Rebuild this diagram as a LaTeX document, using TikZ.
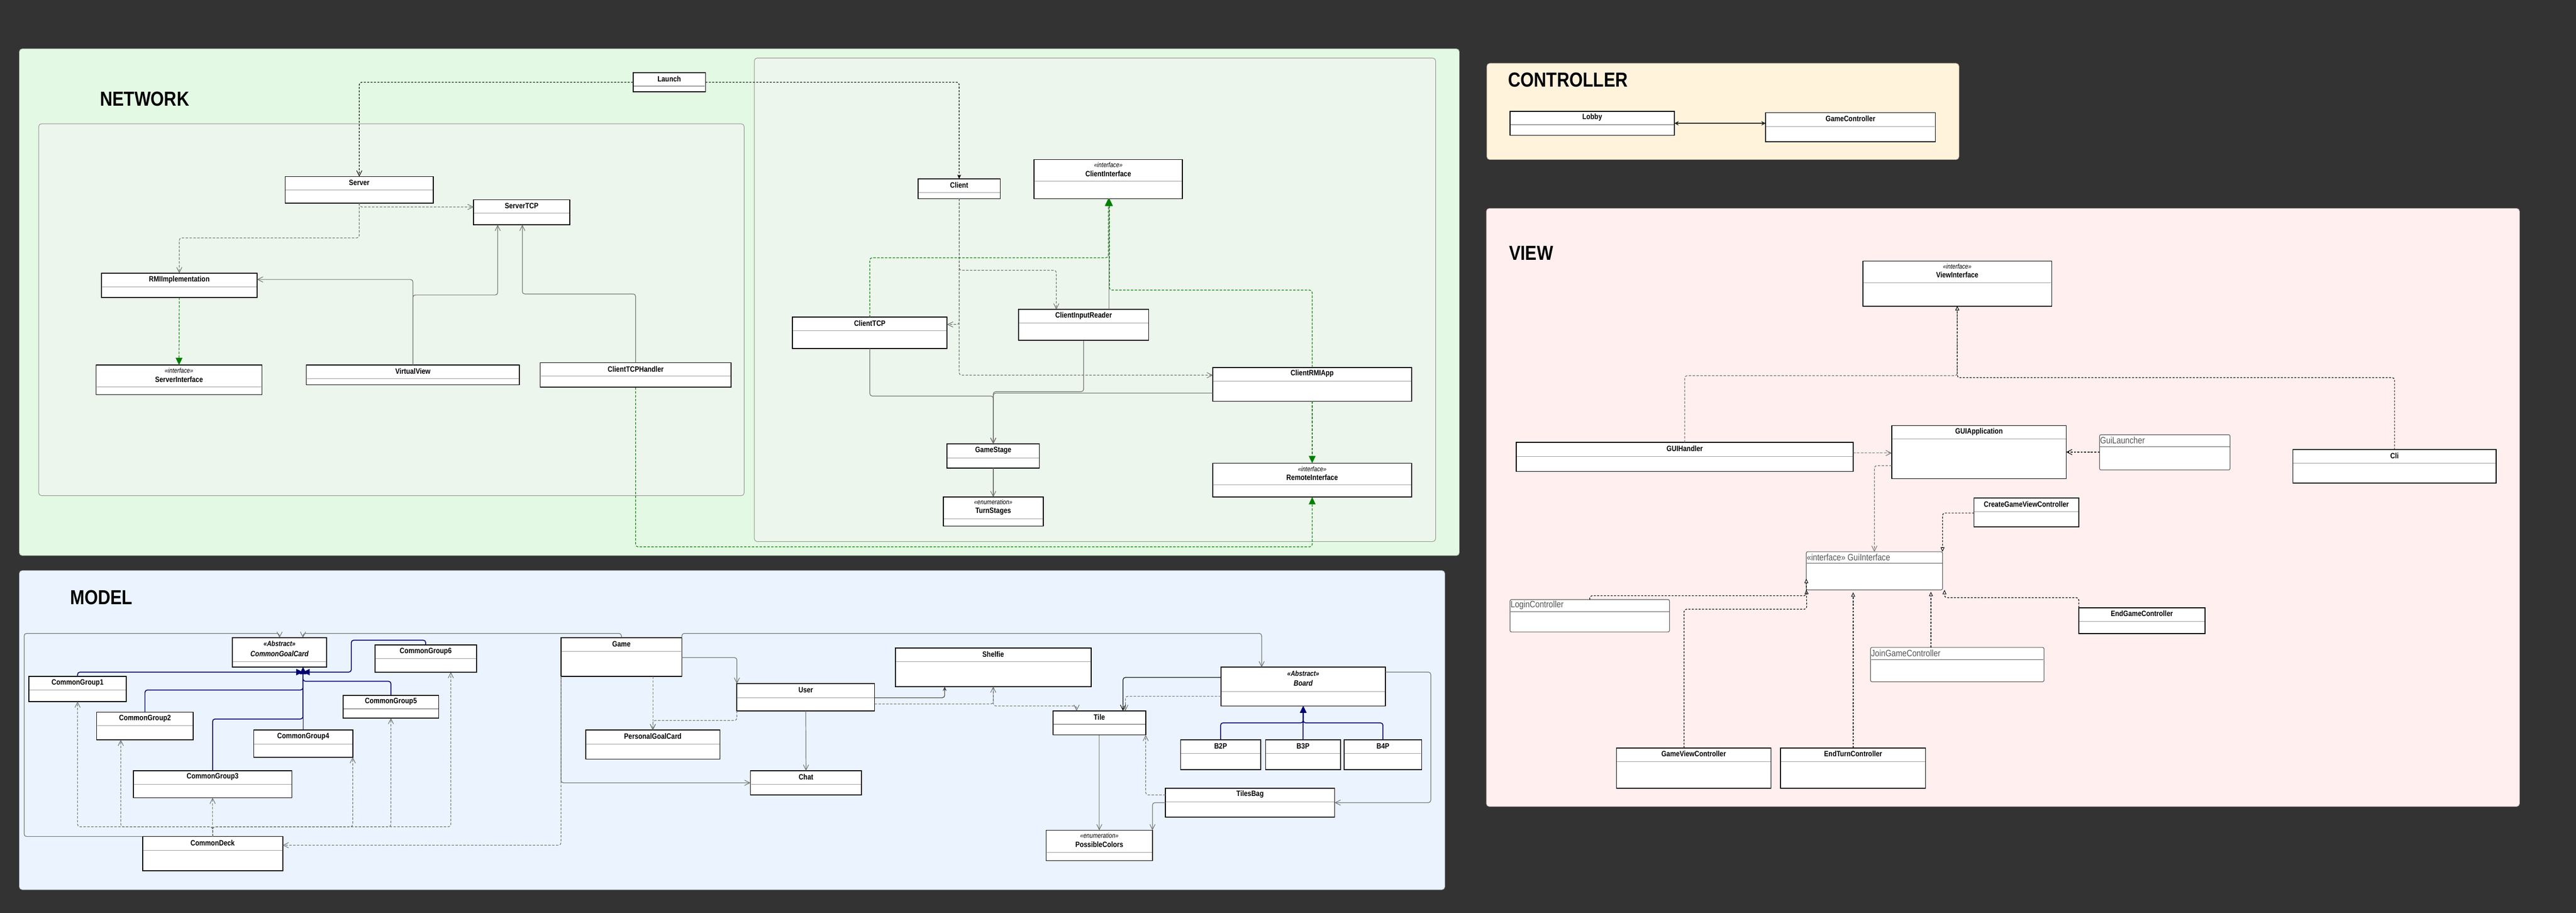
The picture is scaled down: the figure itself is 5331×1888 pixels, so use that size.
\documentclass[tikz,border=0pt]{standalone}
\usepackage{fontspec}
\setmainfont{Liberation Sans}[FakeStretch=0.85]
\usetikzlibrary{arrows.meta}
\definecolor{bgdark}{HTML}{333333}
\definecolor{netfill}{HTML}{E3F9E3}
\definecolor{netinner}{HTML}{EDF6ED}
\definecolor{ctrlfill}{HTML}{FFF3DC}
\definecolor{viewfill}{HTML}{FFEFEF}
\definecolor{modelfill}{HTML}{EBF4FE}
\definecolor{lgray}{HTML}{707070}
\definecolor{umlgreen}{HTML}{008000}
\definecolor{umlnavy}{HTML}{000070}
\definecolor{divgray}{HTML}{999999}
\definecolor{txtgray}{HTML}{555555}
\definecolor{pborder}{HTML}{8A8A8A}

\tikzset{
  panel/.style={rounded corners=6pt, line width=1pt, draw=pborder},
  clsbox/.style={rectangle, draw=black, fill=white, line width=1.8pt, inner sep=0pt, outer sep=0pt},
  clsgbox/.style={rectangle, draw=txtgray, fill=white, line width=1.2pt, rounded corners=3pt, inner sep=0pt, outer sep=0pt},
  divline/.style={draw=divgray, line width=1.2pt},
  clstxt/.style={inner sep=0pt, align=center, font=\fontsize{16}{19}\selectfont\bfseries},
  clsgtxt/.style={inner sep=0pt, anchor=west, text=txtgray, font=\fontsize{19}{22}\selectfont},
  titletxt/.style={inner sep=0pt, anchor=west, font=\fontsize{42}{50}\selectfont\bfseries},
  conn/.style={line width=1.3pt, rounded corners=5pt},
  dgray/.style={conn, draw=lgray, dash pattern=on 5pt off 3pt},
  sgray/.style={conn, draw=lgray},
  dblk/.style={conn, draw=black, dash pattern=on 4pt off 3pt},
  dgreen/.style={conn, draw=umlgreen, dash pattern=on 5pt off 3pt},
  snavy/.style={conn, draw=umlnavy, line width=1.8pt},
  ubarb/.tip={Straight Barb[length=11pt,width=11pt,line width=1.2pt]},
  gtri/.tip={Triangle[length=15pt,width=14pt,fill=umlgreen]},
  ntri/.tip={Triangle[length=14pt,width=13pt,fill=umlnavy]},
  htri/.tip={Triangle[length=9pt,width=8pt,fill=white,line width=1.1pt]},
  stip/.tip={Stealth[length=9pt,width=8pt]}
}

\newcommand\stereo[1]{{\fontsize{14}{17}\selectfont\mdseries\itshape\textless\textless #1\textgreater\textgreater}}
\newcommand\abstr{{\fontsize{15}{18}\selectfont\bfseries\itshape\textless\textless Abstract\textgreater\textgreater}}

% #1 name, #2 x1, #3 y1, #4 x2, #5 y2, #6 divider y, #7 text y, #8 text
\newcommand\cls[8]{%
  \node[clsbox, anchor=north west, minimum width={(#4-#2)*1pt}, minimum height={(#5-#3)*1pt}] (#1) at (#2,#3) {};
  \draw[divline] (#2+1,#6) -- (#4-1,#6);
  \node[clstxt] (#1-t) at ({(#2+#4)/2},#7) {#8};
}
\newcommand\clsg[8]{%
  \node[clsgbox, anchor=north west, minimum width={(#4-#2)*1pt}, minimum height={(#5-#3)*1pt}] (#1) at (#2,#3) {};
  \draw[divline, draw=txtgray] (#2+1,#6) -- (#4-1,#6);
  \node[clsgtxt] (#1-t) at (#2+1,#7) {#8};
}

\begin{document}
\begin{tikzpicture}[x=1pt,y=-1pt]
\fill[bgdark] (0,0) rectangle (5331,1888);
\useasboundingbox (0,0) rectangle (5331,1888);

% ---------------- panels ----------------
\path[panel, fill=netfill, draw=netfill!75!black] (40,101) rectangle (3020,1149);
\path[panel, fill=netinner] (80,256) rectangle (1540,1025);
\path[panel, fill=netinner] (1561,120) rectangle (2971,1120);
\path[panel, fill=ctrlfill, draw=ctrlfill!75!black] (3077,131) rectangle (4054,330);
\path[panel, fill=viewfill, draw=viewfill!75!black] (3076,431) rectangle (5214,1668);
\path[panel, fill=modelfill, draw=modelfill!75!black] (40,1180) rectangle (2990,1840);

\node[titletxt] (netTitle) at (207,205) {NETWORK};
\node[titletxt] (ctrlTitle) at (3121,165) {CONTROLLER};
\node[titletxt] (viewTitle) at (3123,523) {VIEW};
\node[titletxt] (modelTitle) at (145,1236) {MODEL};

% ---------------- NETWORK ----------------
\cls{Launch}{1310}{150}{1460}{190}{178}{163}{Launch}
\cls{Server}{590}{365}{897}{420}{393}{378}{Server}
\cls{ServerTCP}{980}{413}{1179}{465}{441}{426}{ServerTCP}
\cls{RMIImplementation}{210}{565}{532}{615}{593}{578}{RMIImplementation}
\cls{ServerInterface}{199}{755}{542}{816}{800}{776}{\stereo{interface}\\ServerInterface}
\cls{VirtualView}{634}{755}{1075}{796}{783}{768}{VirtualView}
\cls{ClientTCPHandler}{1118}{750}{1513}{801}{778}{763}{ClientTCPHandler}
\cls{Client}{1900}{370}{2070}{411}{398}{383}{Client}
\cls{ClientInterface}{2140}{330}{2447}{411}{375}{351}{\stereo{interface}\\ClientInterface}
\cls{ClientTCP}{1640}{656}{1960}{721}{684}{669}{ClientTCP}
\cls{ClientInputReader}{2108}{640}{2377}{704}{668}{653}{ClientInputReader}
\cls{ClientRMIApp}{2510}{760}{2921}{830}{788}{773}{ClientRMIApp}
\cls{GameStage}{1960}{918}{2151}{968}{947}{932}{GameStage}
\cls{TurnStages}{1952}{1028}{2159}{1088}{1073}{1049}{\stereo{enumeration}\\TurnStages}
\cls{RemoteInterface}{2510}{958}{2921}{1028}{1003}{979}{\stereo{interface}\\RemoteInterface}

\draw[dblk, -{ubarb}] (Launch.west) -| (Server.north);
\draw[dblk, -{stip}] (Launch.east) -| (Client.north);
\draw[dgray, -{ubarb}] (Server.south) -- (743.5,428) -- (ServerTCP.west |- 0,428);
\draw[dgray, -{ubarb}] (Server.south) -- (743.5,492) -| (RMIImplementation.north);
\draw[dgreen, -{gtri}] (RMIImplementation.south) -- (ServerInterface.north);
\draw[sgray, -{ubarb}] (VirtualView.north) -- (854.5,578) -- (RMIImplementation.east |- 0,578);
\draw[sgray, -{ubarb}] (VirtualView.north) |- (1030,610) -- (ServerTCP.south -| 1030,0);
\draw[sgray, -{ubarb}] (ClientTCPHandler.north) |- (1081,608) -- (ServerTCP.south -| 1081,0);
\draw[dgreen, -{gtri}] (ClientTCPHandler.south) |- (2715.5,1131) -- (RemoteInterface.south);
\draw[dgray, -{ubarb}] (Client.south) |- (2186,559) -- (ClientInputReader.north -| 2186,0);
\draw[dgray, -{ubarb}] (Client.south) |- (ClientTCP.east |- 0,671);
\draw[dgray, -{ubarb}] (Client.south) |- (ClientRMIApp.west |- 0,776);
\draw[dgreen, -{gtri}] (ClientTCP.north) |- (2293.5,533) -- (ClientInterface.south);
\draw[sgray] (ClientInputReader.north -| 2295,0) -- (ClientInterface.south -| 2295,0);
\draw[dgreen, -{gtri}] (ClientRMIApp.north) |- (2296,600) -- (ClientInterface.south -| 2296,0);
\draw[dgreen, -{gtri}] (ClientRMIApp.south) -- (RemoteInterface.north);
\draw[sgray, -{ubarb}] (ClientTCP.south) |- (2055.5,819) -- (GameStage.north);
\draw[sgray, -{ubarb}] (ClientInputReader.south) |- (2055.5,810) -- (GameStage.north);
\draw[sgray, -{ubarb}] (ClientRMIApp.west |- 0,813) -| (GameStage.north);
\draw[sgray, -{ubarb}] (GameStage.south) -- (TurnStages.north);

% ---------------- CONTROLLER ----------------
\cls{Lobby}{3125}{230}{3465}{280}{258}{243}{Lobby}
\cls{GameController}{3654}{233}{4005}{293}{262}{245}{GameController}
\draw[line width=2.4pt, draw=black!85, {Stealth[length=9pt,width=9pt]}-{Stealth[length=9pt,width=9pt]}] (Lobby.east |- 0,255) -- (GameController.west |- 0,255);

% ---------------- VIEW ----------------
\cls{ViewInterface}{3855}{540}{4246}{633}{585}{560}{\stereo{interface}\\ViewInterface}
\cls{GUIHandler}{3138}{915}{3835}{975}{944}{928}{GUIHandler}
\cls{GUIApplication}{3915}{880}{4276}{990}{908}{893}{GUIApplication}
\clsg{GuiLauncher}{4345}{899}{4615}{972}{924}{911}{GuiLauncher}
\cls{Cli}{4745}{930}{5166}{999}{958}{943}{Cli}
\cls{CreateGameViewController}{4085}{1030}{4302}{1090}{1058}{1043}{CreateGameViewController}
\clsg{GuiInterface}{3738}{1141}{4020}{1220}{1165}{1153}{\textless\textless interface\textgreater\textgreater{} GuiInterface}
\clsg{LoginController}{3125}{1240}{3455}{1307}{1265}{1252}{LoginController}
\clsg{JoinGameController}{3871}{1339}{4230}{1410}{1364}{1351}{JoinGameController}
\cls{EndGameController}{4302}{1257}{4563}{1310}{1285}{1269}{EndGameController}
\cls{GameViewController}{3345}{1547}{3665}{1630}{1575}{1559}{GameViewController}
\cls{EndTurnController}{3685}{1547}{3985}{1630}{1575}{1559}{EndTurnController}

\draw[dgray, -{htri}] (GUIHandler.north) |- (4050.5,777) -- (ViewInterface.south);
\draw[dblk, -{htri}] (Cli.north) |- (4050.5,781) -- (ViewInterface.south);
\draw[dgray, -{ubarb}] (GUIHandler.east |- 0,937) -- (GUIApplication.west |- 0,937);
\draw[dblk, -{ubarb}] (GuiLauncher.west |- 0,935) -- (GUIApplication.east |- 0,935);
\draw[dgray, -{ubarb}] (GUIApplication.west |- 0,963) -| (GuiInterface.north -| 3879,0);
\draw[dblk, -{htri}] (CreateGameViewController.west |- 0,1061) -| (GuiInterface.north east);
\draw[dblk, -{htri}] (LoginController.north) |- (3739,1232) -- (GuiInterface.south west);
\draw[dblk, -{htri}] (GameViewController.north -| 3485,0) |- (3739,1260) -- (GuiInterface.west |- 0,1197);
\draw[dblk, -{htri}, shorten >=5pt] (EndTurnController.north) -- (GuiInterface.south -| 3835,0);
\draw[dblk, -{htri}, shorten >=4pt] (JoinGameController.north -| 3996,0) -- (GuiInterface.south -| 3996,0);
\draw[dblk, -{htri}] (EndGameController.north west) |- (4024,1236) -- (GuiInterface.south east -| 4024,0);

% ---------------- MODEL ----------------
\cls{CommonGoalCard}{481}{1319}{676}{1380}{1368}{1342}{\abstr\\[2pt]\itshape CommonGoalCard}
\cls{CommonGroup6}{776}{1334}{986}{1390}{1362}{1347}{CommonGroup6}
\cls{CommonGroup1}{60}{1399}{261}{1451}{1427}{1412}{CommonGroup1}
\cls{CommonGroup2}{200}{1473}{400}{1530}{1501}{1486}{CommonGroup2}
\cls{CommonGroup5}{710}{1438}{908}{1485}{1466}{1451}{CommonGroup5}
\cls{CommonGroup4}{525}{1510}{730}{1566}{1539}{1523}{CommonGroup4}
\cls{CommonGroup3}{276}{1594}{604}{1650}{1622}{1607}{CommonGroup3}
\cls{CommonDeck}{295}{1730}{585}{1801}{1759}{1743}{CommonDeck}
\cls{Game}{1161}{1319}{1411}{1399}{1347}{1332}{Game}
\cls{PersonalGoalCard}{1212}{1510}{1490}{1570}{1539}{1523}{PersonalGoalCard}
\cls{User}{1525}{1414}{1810}{1470}{1443}{1427}{User}
\cls{Chat}{1553}{1594}{1783}{1644}{1622}{1607}{Chat}
\cls{Shelfie}{1853}{1340}{2258}{1420}{1368}{1353}{Shelfie}
\cls{Board}{2527}{1380}{2867}{1460}{1430}{1403}{\abstr\\[2pt]\itshape Board}
\cls{Tile}{2179}{1470}{2371}{1520}{1498}{1483}{Tile}
\cls{B2P}{2443}{1530}{2609}{1592}{1558}{1543}{B2P}
\cls{B3P}{2619}{1530}{2774}{1592}{1558}{1543}{B3P}
\cls{B4P}{2782}{1530}{2942}{1592}{1558}{1543}{B4P}
\cls{TilesBag}{2412}{1630}{2762}{1690}{1658}{1643}{TilesBag}
\cls{PossibleColors}{2165}{1717}{2385}{1780}{1763}{1738}{\stereo{enumeration}\\PossibleColors}

\coordinate (genpt) at (627,1390);
% generalisations to CommonGoalCard
\draw[snavy, -{ntri}] (CommonGroup1.north) |- (genpt);
\draw[snavy, -{ntri}] (CommonGroup6.north) |- (727,1324) -- (727,1390) -- (genpt);
\draw[snavy, -{ntri}] (CommonGroup2.north) |- (627,1427) -- (CommonGoalCard.south -| 627,0);
\draw[snavy, -{ntri}] (CommonGroup3.north) |- (627,1487) -- (CommonGoalCard.south -| 627,0);
\draw[snavy, -{ntri}] (CommonGroup4.north) -- (CommonGoalCard.south -| 627.5,0);
\draw[snavy, -{ntri}] (CommonGroup5.north) |- (627,1409) -- (CommonGoalCard.south -| 627,0);

% CommonDeck dependencies
\draw[dgray, -{ubarb}] (CommonDeck.north) |- (160.5,1710) -- (CommonGroup1.south);
\draw[dgray, -{ubarb}] (CommonDeck.north) |- (250,1710) -- (CommonGroup2.south -| 250,0);
\draw[dgray, -{ubarb}] (CommonDeck.north) -- (CommonGroup3.south);
\draw[dgray, -{ubarb}] (CommonDeck.north) |- (730,1710) -- (CommonGroup4.south east);
\draw[dgray, -{ubarb}] (CommonDeck.north) |- (809,1710) -- (CommonGroup5.south);
\draw[dgray, -{ubarb}] (CommonDeck.north) |- (933,1710) -- (CommonGroup6.south -| 933,0);

\draw[sgray, -{ubarb}] (CommonDeck.north west) -- (50,1730) -- (50,1310) -- (578.5,1310) -- (CommonGoalCard.north);
\draw[sgray, -{ubarb}] (Game.north) |- (627,1310) -- (CommonGoalCard.north -| 627,0);
\draw[sgray, -{ubarb}] (Game.north east) |- (2611,1310) -- (Board.north -| 2611,0);
\draw[sgray, -{ubarb}] (Game.east |- 0,1360) -| (User.north west);
\draw[dgray, -{ubarb}] (Game.south -| PersonalGoalCard.north) -- (PersonalGoalCard.north);
\draw[dgray, -{ubarb}] (User.south west) |- (1351,1490) -- (PersonalGoalCard.north);
\draw[sgray, -{ubarb}] (User.south) -- (Chat.north);
\draw[sgray, -{ubarb}] (Game.south west) |- (Chat.west);
\draw[dgray, -{ubarb}] (Game.south west) |- (CommonDeck.east |- 0,1748);
\draw[conn, draw=black!75, -{stip}] (User.east |- 0,1443) -| (Shelfie.south -| 1955,0);
\draw[dgray, -{ubarb}] (User.east |- 0,1456) -| (Shelfie.south);
\draw[dgray, -{ubarb}] (Shelfie.south) |- (2228,1460) -- (Tile.north -| 2228,0);
\draw[conn, draw=black, -{ubarb}] (Board.west |- 0,1401) -| (Tile.north -| 2324,0);
\draw[dgray, -{ubarb}] (Board.west |- 0,1440) -| (Tile.north -| 2329,0);
\draw[snavy, -{ntri}] (B2P.north) |- (2697,1495) -- (Board.south);
\draw[snavy, -{ntri}] (B3P.north) -- (Board.south);
\draw[snavy, -{ntri}] (B4P.north) |- (2697,1495) -- (Board.south);
\draw[dgray, -{ubarb}] (TilesBag.west |- 0,1644) -| (Tile.south east);
\draw[sgray, -{ubarb}] (Board.east |- 0,1390) -- (2961,1390) |- (TilesBag.east);
\draw[sgray, -{ubarb}] (Tile.south) -- (PossibleColors.north);
\draw[sgray, -{ubarb}] (TilesBag.west) -| (PossibleColors.north east);

\end{tikzpicture}
\end{document}
